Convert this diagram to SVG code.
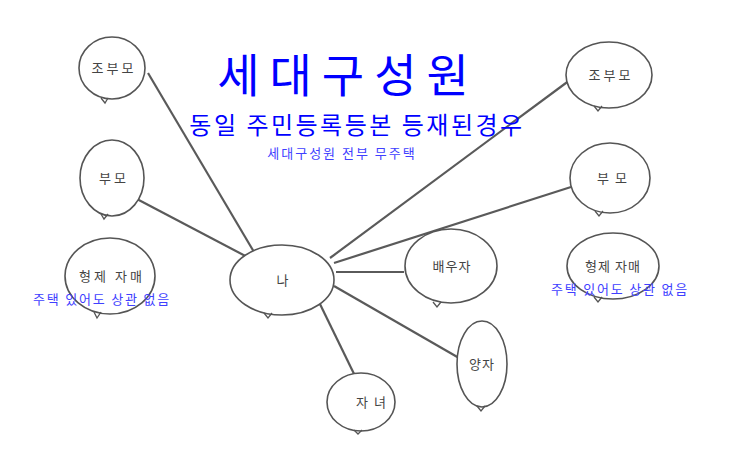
<svg xmlns="http://www.w3.org/2000/svg" width="743" height="467" viewBox="0 0 743 467">
<style>
.b{fill:#fff;stroke:#555;stroke-width:1.6}
.t{fill:none;stroke:#555;stroke-width:1.3}
.l{font-family:"Noto Sans CJK KR","Noto Sans",sans-serif;font-size:13px;fill:#444;text-anchor:middle;letter-spacing:3px}
.c line{stroke:#5a5a5a;stroke-width:2.2}
.bl{font-family:"Noto Sans CJK KR","Noto Sans",sans-serif;fill:#0000ff;text-anchor:middle}
.sb{font-family:"Noto Sans CJK KR","Noto Sans",sans-serif;fill:#4040ff;font-size:13px;text-anchor:middle;letter-spacing:1.8px}
</style>
<rect width="743" height="467" fill="#fff"/>
<g class="c">
<line x1="257" y1="257" x2="148" y2="73"/>
<line x1="253" y1="260" x2="135" y2="198"/>
<line x1="330" y1="258" x2="570" y2="80"/>
<line x1="334" y1="263" x2="571" y2="187"/>
<line x1="336" y1="272" x2="404" y2="272"/>
<line x1="334" y1="286" x2="466" y2="362"/>
<line x1="318" y1="300" x2="357" y2="380"/>
</g>
<g id="jobumo-l"><ellipse class="b" cx="112" cy="68" rx="33" ry="31"/><path class="t" d="M101 98 L105 103 L108 98"/><text class="l" x="114" y="73">조부모</text></g>
<g id="bumo-l"><ellipse class="b" cx="112" cy="178" rx="32" ry="38"/><path class="t" d="M101 214 L104 219 L108 214"/><text class="l" x="114" y="183">부모</text></g>
<g id="hyeongje-l"><ellipse class="b" cx="110" cy="276" rx="45" ry="38"/><path class="t" d="M94 312 L97 318 L101 312"/><text class="l" x="112" y="281">형제 자매</text></g>
<g id="na"><ellipse class="b" cx="282" cy="280" rx="52" ry="35"/><path class="t" d="M264 313 L268 318 L272 313"/><text class="l" x="284" y="285">나</text></g>
<g id="baeuja"><ellipse class="b" cx="451" cy="266" rx="46" ry="37"/><path class="t" d="M433 302 L437 307 L441 302"/><text class="l" x="452" y="271" style="letter-spacing:1px">배우자</text></g>
<g id="yangja"><ellipse class="b" cx="482" cy="364" rx="25" ry="43"/><path class="t" d="M477 406 L481 411 L485 406"/><text class="l" x="482" y="369" style="letter-spacing:1px">양자</text></g>
<g id="janyeo"><ellipse class="b" cx="361" cy="402" rx="34" ry="29"/><path class="t" d="M354 430 L358 434 L362 430"/><text class="l" x="374" y="407" style="letter-spacing:6px">자녀</text></g>
<g id="jobumo-r"><ellipse class="b" cx="609" cy="75" rx="43" ry="33"/><path class="t" d="M594 106 L598 111 L602 106"/><text class="l" x="611" y="80">조부모</text></g>
<g id="bumo-r"><ellipse class="b" cx="610" cy="178" rx="40" ry="35"/><path class="t" d="M595 211 L599 216 L603 211"/><text class="l" x="615" y="183" style="letter-spacing:6px">부모</text></g>
<g id="hyeongje-r"><ellipse class="b" cx="613" cy="266" rx="46" ry="33"/><path class="t" d="M594 297 L598 302 L602 297"/><text class="l" x="613" y="271" style="letter-spacing:1px">형제 자매</text></g>
<text class="bl" x="348" y="92" font-size="46" style="letter-spacing:10px">세대구성원</text>
<text class="bl" x="357" y="134" font-size="24" style="letter-spacing:2.5px">동일 주민등록등본 등재된경우</text>
<text class="sb" x="342" y="158" style="letter-spacing:2px">세대구성원 전부 무주택</text>
<text class="sb" x="102" y="304">주택 있어도 상관 없음</text>
<text class="sb" x="620" y="294">주택 있어도 상관 없음</text>
</svg>
